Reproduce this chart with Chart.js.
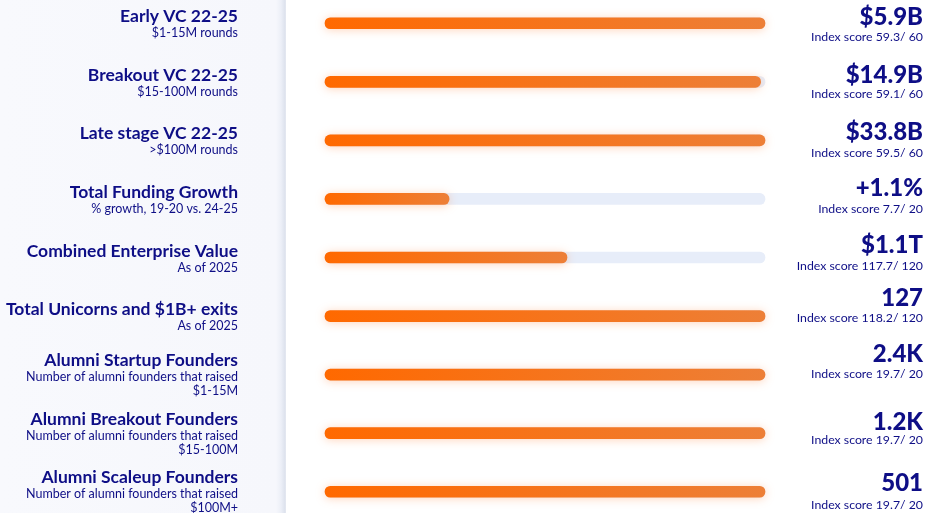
<!DOCTYPE html>
<html>
<head>
<meta charset="utf-8">
<title>Ecosystem index scorecard</title>
<script src="https://cdn.jsdelivr.net/npm/chart.js@4.4.1/dist/chart.umd.min.js"></script>
<style>
  html, body { margin: 0; padding: 0; background: #ffffff; overflow: hidden; }
  body { width: 926px; height: 513px; position: relative; }
  .side {
    position: absolute; left: 0; top: 0; width: 286px; height: 513px;
    background: linear-gradient(to right, #f8f9fd 0px, #f6f7fc 276px, #eceff7 281px, #dde2ed 285px, #e8ebf3 286px);
  }
  .wrap { position: absolute; left: 0; top: -6px; width: 926px; height: 527px; }
</style>
</head>
<body>
<div class="side"></div>
<div class="wrap"><canvas id="chart"></canvas></div>
<script>
// Metric names and their explanatory lines
const categories = [
  'Early VC 22-25',
  'Breakout VC 22-25',
  'Late stage VC 22-25',
  'Total Funding Growth',
  'Combined Enterprise Value',
  'Total Unicorns and $1B+ exits',
  'Alumni Startup Founders',
  'Alumni Breakout Founders',
  'Alumni Scaleup Founders'
];
const subtitles = [
  ['$1-15M rounds'],
  ['$15-100M rounds'],
  ['>$100M rounds'],
  ['% growth, 19-20 vs. 24-25'],
  ['As of 2025'],
  ['As of 2025'],
  ['Number of alumni founders that raised', '$1-15M'],
  ['Number of alumni founders that raised', '$15-100M'],
  ['Number of alumni founders that raised', '$100M+']
];
// Headline figure for each metric
const headlines = ['$5.9B', '$14.9B', '$33.8B', '+1.1%', '$1.1T', '127', '2.4K', '1.2K', '501'];
// Index score and its maximum
const indexScores = [59.3, 59.1, 59.5, 7.7, 117.7, 118.2, 19.7, 19.7, 19.7];
const indexMax = [60, 60, 60, 20, 120, 120, 20, 20, 20];
// Progress bar fill, percent of the track
const barFill = [100, 99, 100, 28.2, 55, 100, 100, 100, 100];
const trackFull = categories.map(() => 100);

// Vertical nudges of the right-hand text block (px from the row centre)
const headlineLift = [1.5, 0.7, -0.5, -3.3, -4.5, -9.8, -12.3, -3.5, -1];
const scoreLift = [18.2, 16.3, 16.2, 14, 12.9, 6.2, 3.3, 10.5, 17];

const NAVY = '#0e0e86';
const FONT = 'Lato, "Open Sans", sans-serif';

function barGradient(context) {
  const chart = context.chart;
  const x = chart.scales.x;
  if (!x || !chart.chartArea) return '#f57322';
  const v = context.raw;
  const x0 = x.getPixelForValue(0);
  const x1 = x.getPixelForValue(v);
  const g = chart.ctx.createLinearGradient(x0, 0, Math.max(x1, x0 + 1), 0);
  g.addColorStop(0, '#ff6900');
  g.addColorStop(1, '#ed7f37');
  return g;
}

// Soft orange glow under the filled bars
const glowPlugin = {
  id: 'glow',
  beforeDatasetDraw(chart, args) {
    if (args.index !== 0) return;
    const ctx = chart.ctx;
    ctx.save();
    ctx.shadowColor = 'rgba(255, 112, 30, 0.30)';
    ctx.shadowBlur = 10;
    ctx.shadowOffsetY = 1;
  },
  afterDatasetDraw(chart, args) {
    if (args.index !== 0) return;
    chart.ctx.restore();
  }
};

// Metric names on the left, figures and scores on the right
const textPlugin = {
  id: 'rowText',
  afterDraw(chart) {
    const ctx = chart.ctx;
    const y = chart.scales.y;
    ctx.save();
    ctx.fillStyle = NAVY;
    ctx.textBaseline = 'alphabetic';
    categories.forEach((name, i) => {
      const cy = y.getPixelForValue(i);
      const subs = subtitles[i];
      const titleBase = cy - 1 - 7.5 * (subs.length - 1);
      ctx.textAlign = 'right';
      ctx.font = 'bold 17.5px ' + FONT;
      ctx.fillText(name, 238, titleBase);
      ctx.font = '12.5px ' + FONT;
      subs.forEach((line, k) => {
        ctx.fillText(line, 238, titleBase + 15 + 14 * k);
      });

      ctx.font = '900 24px ' + FONT;
      ctx.fillText(headlines[i], 923, cy + headlineLift[i]);
      ctx.font = '12.3px ' + FONT;
      ctx.fillText('Index score ' + indexScores[i] + '/ ' + indexMax[i], 923, cy + scoreLift[i]);
    });
    ctx.restore();
  }
};

new Chart(document.getElementById('chart'), {
  type: 'bar',
  data: {
    labels: categories,
    datasets: [
      {
        label: 'Fill',
        data: barFill,
        backgroundColor: barGradient,
        borderRadius: 6,
        borderSkipped: false,
        barThickness: 11,
        grouped: false,
        clip: false
      },
      {
        label: 'Track',
        data: trackFull,
        backgroundColor: '#e7edf9',
        borderRadius: 6,
        borderSkipped: false,
        barThickness: 11,
        grouped: false,
        clip: false
      }
    ]
  },
  options: {
    indexAxis: 'y',
    responsive: true,
    maintainAspectRatio: false,
    animation: false,
    events: [],
    layout: { padding: { left: 325, right: 161, top: 0, bottom: 0 } },
    scales: {
      x: { display: false, min: 0, max: 100 },
      y: { display: false }
    },
    plugins: {
      legend: { display: false },
      tooltip: { enabled: false }
    }
  },
  plugins: [glowPlugin, textPlugin]
});
</script>
</body>
</html>
